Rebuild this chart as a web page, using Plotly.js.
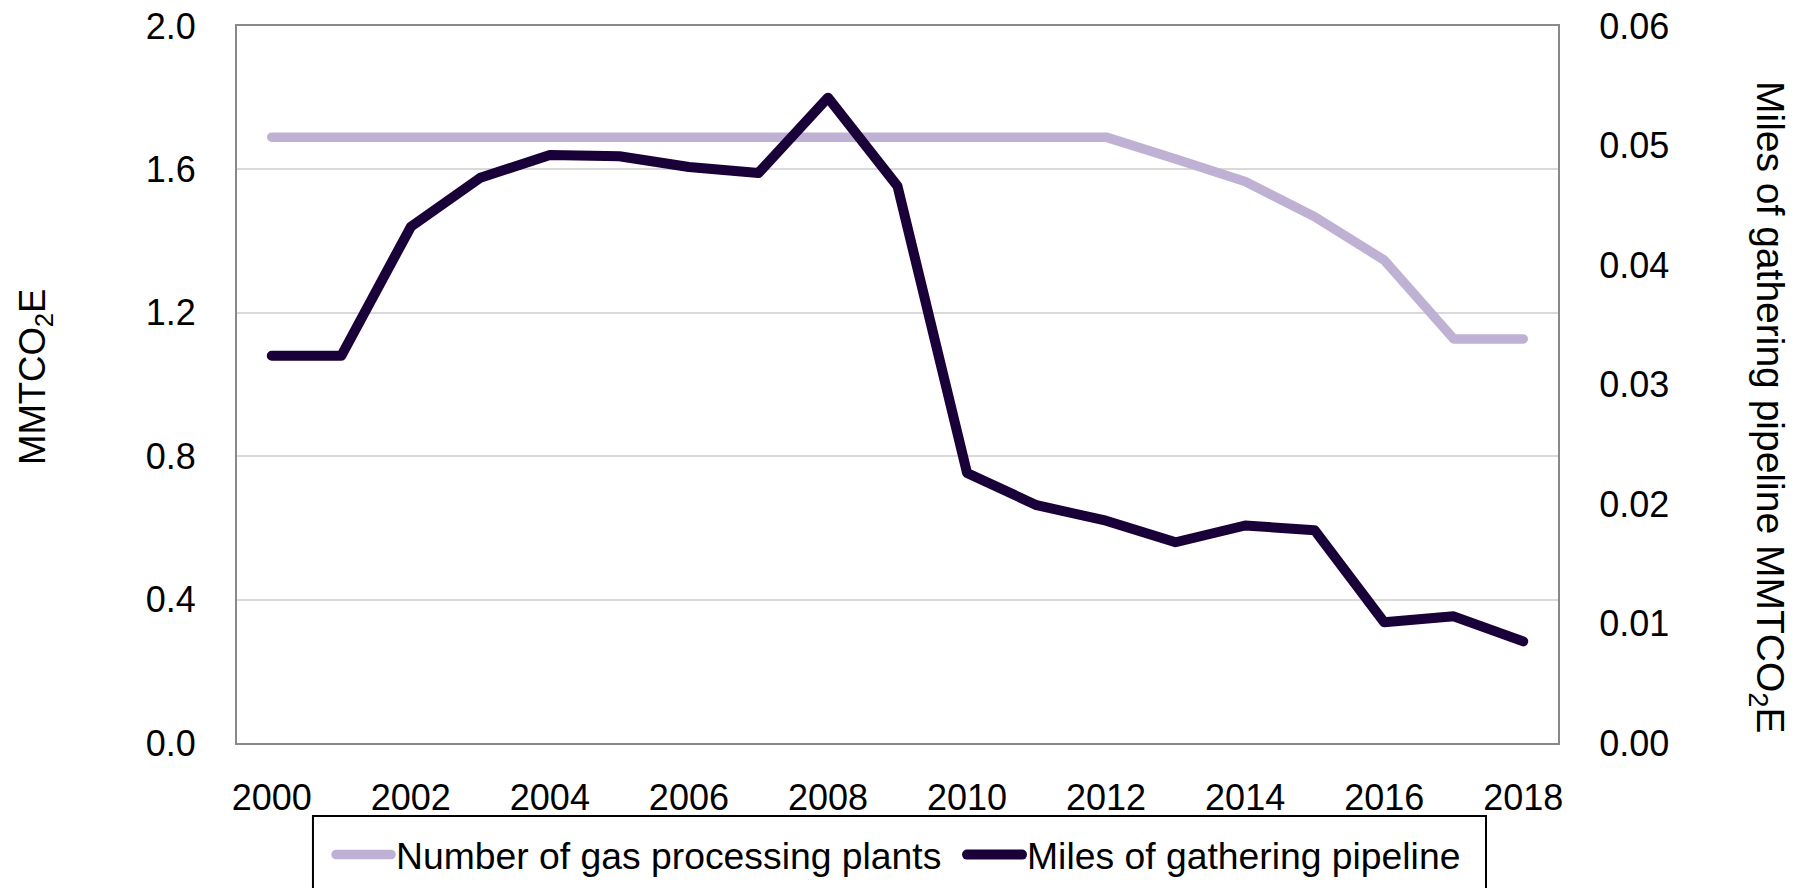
<!DOCTYPE html>
<html>
<head>
<meta charset="utf-8">
<script src="https://cdn.plot.ly/plotly-3.0.1.min.js"></script>
<style>
  html, body { margin: 0; padding: 0; background: #fff; }
  #chart { width: 1798px; height: 888px; }
  .scatterlayer path.js-line, .legend path.js-line { stroke-linecap: round; stroke-linejoin: round; }
</style>
</head>
<body>
<div id="chart"></div>
<script>
// ---- data ----
const years = [2000, 2001, 2002, 2003, 2004, 2005, 2006, 2007, 2008, 2009,
               2010, 2011, 2012, 2013, 2014, 2015, 2016, 2017, 2018];
// left axis (MMTCO2E)
const gasProcessingPlants = [1.69, 1.69, 1.69, 1.69, 1.69, 1.69, 1.69, 1.69, 1.69, 1.69,
                             1.69, 1.69, 1.69, 1.629, 1.566, 1.468, 1.347, 1.127, 1.127];
// right axis (MMTCO2E)
const gatheringPipeline = [0.0324, 0.0324, 0.0432, 0.0473, 0.0492, 0.0491, 0.0482, 0.0477, 0.0540, 0.0466,
                           0.0226, 0.0199, 0.0186, 0.0168, 0.0182, 0.0178, 0.0101, 0.0106, 0.0085];
const xTickVals = [2000, 2002, 2004, 2006, 2008, 2010, 2012, 2014, 2016, 2018];
const seriesNames = ["Number of gas processing plants", "Miles of gathering pipeline"];
const leftTitle = "MMTCO<sub>2</sub>E";
const rightTitle = "Miles of gathering pipeline MMTCO<sub>2</sub>E";

const FONT = "Liberation Sans, Arial, sans-serif";

const traces = [
  {
    x: years, y: gasProcessingPlants, name: seriesNames[0],
    type: "scatter", mode: "lines", yaxis: "y",
    line: { color: "#bfb1d3", width: 9.5 }
  },
  {
    x: years, y: gatheringPipeline, name: seriesNames[1],
    type: "scatter", mode: "lines", yaxis: "y2",
    line: { color: "#1a0038", width: 10 }
  }
];

const axisLine = "#898989";

const layout = {
  width: 1798, height: 888,
  margin: { l: 237, r: 240, t: 26, b: 145, pad: 0, autoexpand: false },
  paper_bgcolor: "#ffffff", plot_bgcolor: "#ffffff",
  font: { family: FONT, size: 36, color: "#000000" },
  showlegend: true,
  xaxis: {
    range: [1999.5, 2018.5], tickvals: xTickVals, ticktext: xTickVals.map(String),
    showgrid: false, zeroline: false,
    showline: true, linecolor: axisLine, linewidth: 2, mirror: true,
    ticks: "", ticklabelstandoff: 22, automargin: false,
    tickfont: { family: FONT, size: 36, color: "#000" }
  },
  yaxis: {
    range: [0, 2], dtick: 0.4, tick0: 0, tickformat: ".1f",
    showgrid: true, gridcolor: "#d9d9d9", gridwidth: 2,
    zeroline: false, showline: true, linecolor: axisLine, linewidth: 2, mirror: true,
    ticks: "", ticklabelstandoff: 32, automargin: false,
    tickfont: { family: FONT, size: 36, color: "#000" }
  },
  yaxis2: {
    overlaying: "y", side: "right",
    range: [0, 0.06], dtick: 0.01, tick0: 0, tickformat: ".2f",
    showgrid: false, zeroline: false,
    showline: true, linecolor: axisLine, linewidth: 2,
    ticks: "", ticklabelstandoff: 32, automargin: false,
    tickfont: { family: FONT, size: 36, color: "#000" }
  },
  legend: {
    orientation: "h",
    x: 0.0712, xanchor: "left",
    y: -0.156, yanchor: "middle",
    bgcolor: "rgba(0,0,0,0)", borderwidth: 0,
    font: { family: FONT, size: 37.3, color: "#000" },
    itemwidth: 55,
    entrywidth: 561, entrywidthmode: "pixels",
    traceorder: "normal"
  },
  shapes: [
    {
      type: "rect", xref: "paper", yref: "paper",
      x0: 0.0575, x1: 0.9455, y0: -0.23, y1: -0.1018,
      line: { color: "#000000", width: 2 }, fillcolor: "rgba(0,0,0,0)", layer: "above"
    }
  ],
  annotations: [
    {
      text: leftTitle, xref: "paper", yref: "paper",
      x: -0.1529, y: 0.5105, xanchor: "center", yanchor: "middle",
      textangle: -90, showarrow: false,
      font: { family: FONT, size: 36.5, color: "#000" }
    },
    {
      text: rightTitle, xref: "paper", yref: "paper",
      x: 1.159, y: 0.4686, xanchor: "center", yanchor: "middle",
      textangle: 90, showarrow: false,
      font: { family: FONT, size: 39, color: "#000" }
    }
  ]
};

Plotly.newPlot("chart", traces, layout, { displayModeBar: false, staticPlot: true }).then(function (gd) {
  // lengthen legend line samples to match the reference
  gd.querySelectorAll(".legend path.js-line").forEach(function (p) {
    p.setAttribute("d", "M5,0h55");
  });
});
</script>
</body>
</html>
